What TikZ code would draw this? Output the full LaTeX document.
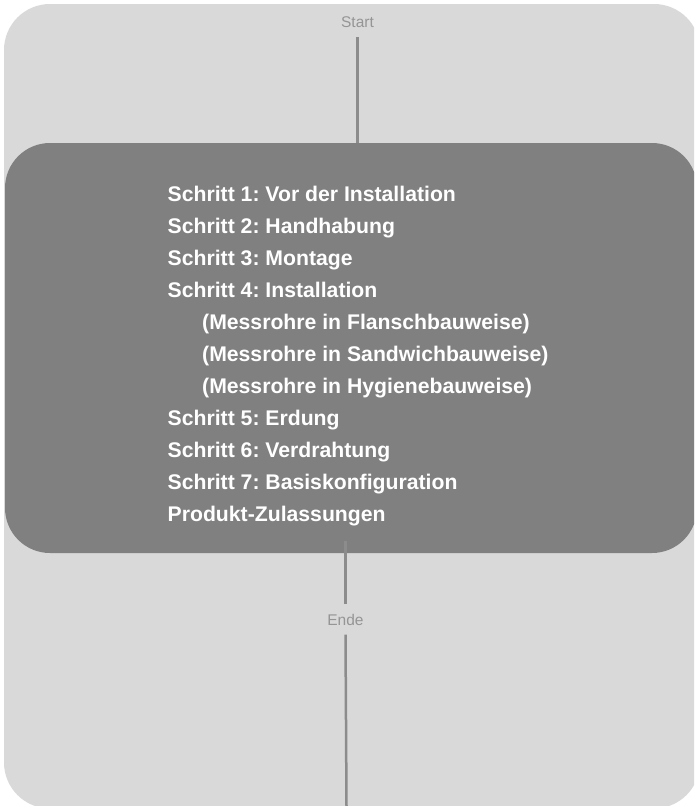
\documentclass[tikz,border=0pt]{standalone}
\usepackage{fontspec}
\setmainfont{Liberation Sans}
\usetikzlibrary{positioning}
\frenchspacing

\definecolor{panelgray}{HTML}{D9D9D9}
\definecolor{boxgray}{HTML}{808080}
\definecolor{linkgray}{HTML}{8C8C8C}
\definecolor{labelgray}{HTML}{959595}

\tikzset{
    endlabel/.style={
        text=labelgray,
        font=\fontsize{15.5}{18}\selectfont,
        text height=11pt,
        text depth=0pt,
        inner xsep=2pt,
        inner ysep=9.5pt},
    link/.style={draw=linkgray, line width=2.5pt}
}

\begin{document}
\begin{tikzpicture}[x=1pt,y=-1pt]

\useasboundingbox (0,0) rectangle (694,806);
\clip (0,0) rectangle (694,806);

% Background panel
\fill[panelgray, rounded corners=46pt] (4,4) rectangle (700,808.5);

% Start label
\node[endlabel,
    anchor=base] (start) at (357.5,27.7) {Start};

% Steps block
\node[fill=boxgray,
    rounded corners=45pt,
    minimum width=692pt,
    minimum height=410pt,
    inner sep=0] (steps) at (351,348) {};

\node[anchor=north west,
    inner sep=0,
    text=white,
    align=left,
    font=\bfseries\fontsize{21.2}{32}\selectfont] (steplist) at (167.5,185.5) {%
    Schritt 1: Vor der Installation\\
    Schritt 2: Handhabung\\
    Schritt 3: Montage\\
    Schritt 4: Installation\\
    \hspace*{34.5pt}(Messrohre in Flanschbauweise)\\
    \hspace*{34.5pt}(Messrohre in Sandwichbauweise)\\
    \hspace*{34.5pt}(Messrohre in Hygienebauweise)\\
    Schritt 5: Erdung\\
    Schritt 6: Verdrahtung\\
    Schritt 7: Basiskonfiguration\\
    Produkt-Zulassungen};

% End label
\node[endlabel,
    anchor=base] (ende) at (345.5,625) {Ende};

\coordinate (bottom) at (346.5,806);

% Lines
\draw[link] (start.south) -- (start.south |- steps.north);
\draw[link] ([yshift=12pt]steps.south -| ende.north) -- (ende.north);
\draw[link] (ende.south) -- (bottom);

\end{tikzpicture}
\end{document}
